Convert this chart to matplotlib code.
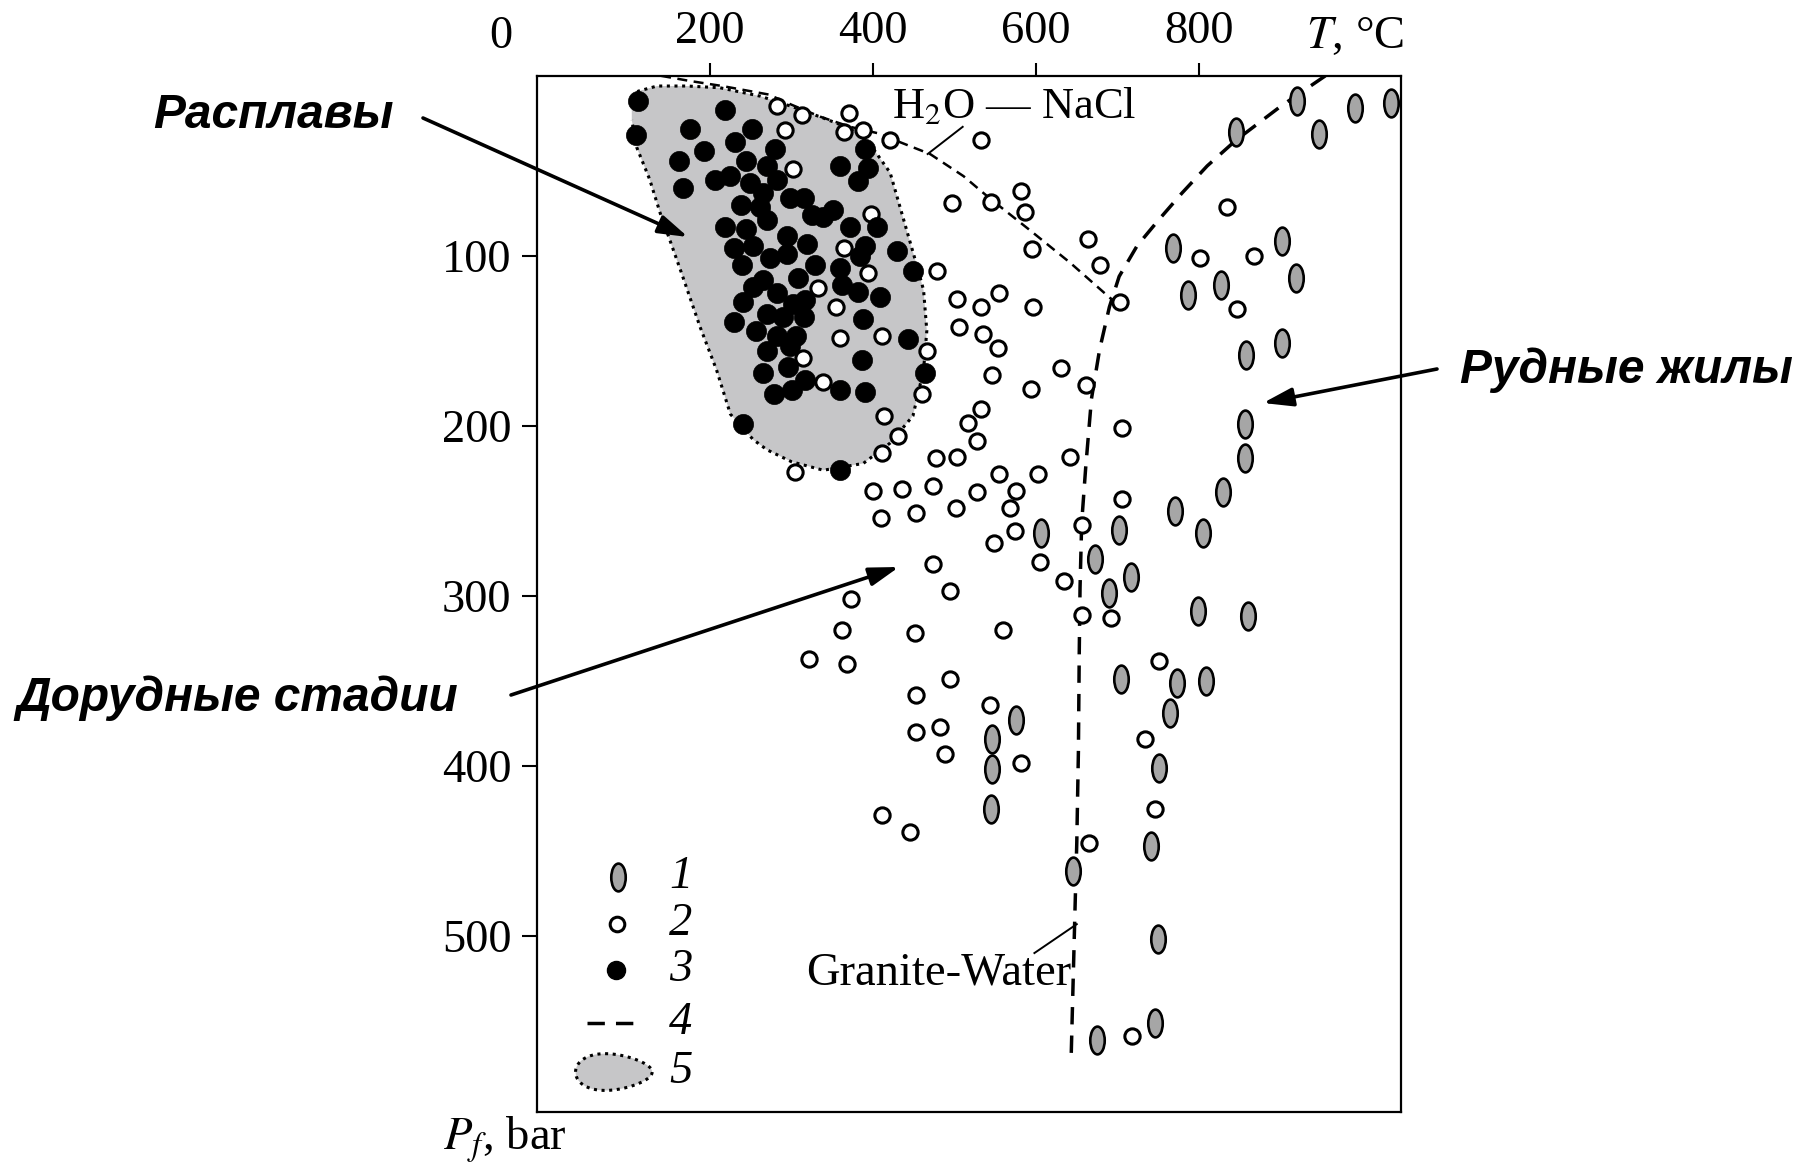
import numpy as np
import matplotlib
matplotlib.use("Agg")
import matplotlib.pyplot as plt
from matplotlib.path import Path

plt.rcParams['font.family'] = ['Liberation Serif', 'DejaVu Serif']
plt.rcParams['mathtext.fontset'] = 'stix'

# ---------------- data ----------------
# 1 - ore veins (grey ellipses)
ore_T = [920, 845, 947, 991, 1035, 768, 827, 787, 902, 919, 858, 902, 856, 856, 830,
         770, 805, 606, 702, 672, 716, 689, 799, 860, 704, 773, 809, 764, 575, 546,
         546, 545, 751, 741, 645, 750, 675, 746]
ore_P = [9, 27, 28, 13, 10, 95, 117, 123, 91, 113, 158, 151, 199, 219, 239,
         250, 263, 263, 261, 278, 289, 298, 309, 312, 349, 351, 350, 369, 373, 384,
         402, 425, 401, 447, 462, 502, 561, 551]

# 2 - pre-ore stages (open circles)
pre_T = [282, 313, 371, 364, 388, 421, 292, 302, 398, 364, 394, 333, 355, 360, 411,
         314, 339, 466, 460, 478, 497, 503, 505, 414, 431, 411, 304,
         532, 545, 582, 586, 595, 664, 678, 703, 834, 801, 867, 846, 532, 554, 596,
         535, 553, 546, 631, 594, 661, 705, 532, 516, 527,
         477, 503, 554, 603, 642, 527, 576, 473, 435, 400, 410, 453, 502, 568, 574,
         548, 705, 656, 605, 634, 656, 692, 473, 495, 373, 362, 321, 368, 451, 559,
         494, 453, 543, 453, 482, 488, 581, 751, 734, 746, 411, 445, 665, 718]
pre_P = [12, 17, 16, 27, 26, 32, 26, 49, 75, 95, 110, 119, 130, 148, 147,
         160, 174, 156, 181, 109, 69, 125, 142, 194, 206, 216, 227,
         32, 68, 62, 74, 96, 90, 105, 127, 71, 101, 100, 131, 130, 122, 130,
         146, 154, 170, 166, 178, 176, 201, 190, 198, 209,
         219, 218, 228, 228, 218, 239, 238, 235, 237, 238, 254, 251, 248, 248, 262,
         269, 243, 258, 280, 291, 311, 313, 281, 297, 302, 320, 337, 340, 322, 320,
         349, 358, 364, 380, 377, 393, 398, 338, 384, 425, 429, 439, 445, 559]

# 3 - melts (black dots)
melt_T = [112, 109, 218, 176, 252, 192, 231, 162, 167, 206, 225, 244, 280, 270, 249,
          282, 238, 261, 265, 298, 270, 218, 244, 294, 229, 253, 239, 274, 294,
          390, 359, 394, 382, 315, 325, 351, 339, 372, 405, 319, 390, 384, 429, 329,
          360, 449,
          229, 257, 241, 253, 270, 296, 265, 278, 300, 241, 282, 270, 290, 265, 282,
          302, 298,
          308, 362, 382, 409, 317, 388, 315, 306, 443, 386, 464, 317, 360, 390, 360]
melt_P = [9, 29, 14, 25, 25, 38, 33, 44, 60, 55, 53, 44, 37, 47, 57,
          55, 70, 71, 63, 66, 79, 83, 84, 88, 95, 94, 105, 101, 99,
          37, 47, 48, 56, 66, 76, 73, 77, 83, 83, 93, 94, 100, 97, 105,
          107, 109,
          139, 144, 127, 118, 156, 165, 169, 181, 179, 199, 147, 134, 136, 114, 122,
          128, 153,
          113, 117, 121, 124, 126, 137, 136, 147, 149, 161, 169, 173, 179, 180, 226]

# 4 - phase boundary curves
nacl_T = [140, 175, 215, 272, 300, 335, 372, 408, 433, 470, 511, 543, 593, 642, 694]
nacl_P = [-6, -3, 0, 5, 11, 18, 24, 28, 33, 40, 53, 66, 85, 104, 126]

granite_T = [955, 900, 845, 810, 779, 750, 724, 702, 690, 678, 668, 661, 656, 654,
             653, 652, 650, 648, 643]
granite_P = [-6, 12, 32, 47, 63, 79, 94, 112, 130, 155, 184, 224, 257, 295,
             334, 391, 445, 481, 573]

# 5 - melt field outline
field_T = [104, 112, 135, 172, 212, 262, 300, 340, 372, 396, 421, 433, 445, 454, 462,
           466, 462, 449, 421, 388, 339, 300, 270, 253, 225, 208, 188, 165, 151, 139,
           126, 110, 104]
field_P = [12, 3, 0, 0, 1, 6, 12, 19, 25, 34, 51, 71, 91, 106, 120,
           144, 167, 194, 210, 222, 226, 221, 214, 208, 193, 167, 142, 110, 91, 75,
           55, 36, 20]

x_ticks = [200, 400, 600, 800]
y_ticks = [100, 200, 300, 400, 500]
legend_labels = ['1', '2', '3', '4', '5']

# ---------------- figure ----------------
W, H = 1801, 1165
fig = plt.figure(figsize=(W / 100, H / 100), dpi=100)
ax = fig.add_axes([537 / W, 1 - 1112 / H, (1401 - 537) / W, (1112 - 76) / H])
ax.set_xlim(-12.3, 1047.8)
ax.set_ylim(603.5, -5.9)

FS = 33.5

# melt field
ax.fill(field_T, field_P, facecolor='#c6c6c8', edgecolor='none', zorder=1)
ax.plot(field_T, field_P, color='black', lw=2.2, linestyle=(0, (1, 1.5)), zorder=2)

# curves
ax.plot(nacl_T, nacl_P, color='black', lw=1.8, linestyle=(0, (4, 2.6)), zorder=3)
ax.plot(granite_T, granite_P, color='black', lw=2.5, linestyle=(0, (5, 3.2)), zorder=3)

# markers
circ = Path.unit_circle()
ell_path = Path(circ.vertices * np.array([0.52, 1.0]), circ.codes)

ax.plot(ore_T, ore_P, linestyle='none', marker=ell_path, markersize=20,
        markerfacecolor='#a6a6a6', markeredgecolor='black', markeredgewidth=1.9, zorder=5)
ax.plot(pre_T, pre_P, linestyle='none', marker='o', markersize=11,
        markerfacecolor='white', markeredgecolor='black', markeredgewidth=2.2, zorder=5)
ax.plot(melt_T, melt_P, linestyle='none', marker='o', markersize=14.5,
        markerfacecolor='black', markeredgecolor='black', markeredgewidth=0.5, zorder=6)

# curve labels
ax.text(573, 12, r'H$_2$O — NaCl', fontsize=32, ha='center', va='center', zorder=7)
ax.plot([467, 510], [40, 24], color='black', lw=1.4, zorder=4)
ax.text(481, 522, 'Granite-Water', fontsize=FS, ha='center', va='center', zorder=7)
ax.plot([598, 650], [510, 493], color='black', lw=1.4, zorder=4)

# legend (inside axes)
leg_T = 87
ax.plot([leg_T], [465], linestyle='none', marker=ell_path, markersize=20,
        markerfacecolor='#a6a6a6', markeredgecolor='black', markeredgewidth=1.9)
ax.plot([leg_T - 1], [493], linestyle='none', marker='o', markersize=10.5,
        markerfacecolor='white', markeredgecolor='black', markeredgewidth=2.2)
ax.plot([leg_T - 2], [520], linestyle='none', marker='o', markersize=13,
        markerfacecolor='black', markeredgecolor='black')
ax.plot([49, 111], [551, 551], color='black', lw=2.5, linestyle=(0, (5, 3.2)))
t = np.linspace(0, 2 * np.pi, 80)
bx = 82 + 47 * np.cos(t)
by = 580 + 10.5 * np.sin(t) * (1 - 0.25 * np.cos(t))
ax.fill(bx, by, facecolor='#c6c6c8', edgecolor='none')
ax.plot(bx, by, color='black', lw=2.2, linestyle=(0, (1, 1.5)))
for lab, yy in zip(legend_labels, [465, 493, 520, 551, 580]):
    ax.text(150, yy, lab, fontsize=FS, fontstyle='italic', ha='left', va='center')

# axes styling
ax.xaxis.tick_top()
ax.xaxis.set_label_position('top')
ax.set_xticks(x_ticks)
ax.set_xticklabels([str(v) for v in x_ticks])
ax.set_yticks(y_ticks)
ax.set_yticklabels([str(v) for v in y_ticks])
ax.tick_params(axis='x', direction='out', length=9.5, width=1.5, pad=7, labelsize=FS)
ax.tick_params(axis='y', direction='out', length=10.5, width=1.5, pad=8, labelsize=FS)
for sp in ax.spines.values():
    sp.set_linewidth(1.6)

# axis annotations
fig.text(501 / W, 1 - 37 / H, '0', fontsize=FS, ha='center', va='center')
fig.text(1355 / W, 1 - 37 / H, r'$T$, °C', fontsize=FS, ha='center', va='center')
fig.text(443 / W, 1 - 1140 / H, r'$P_f$, bar', fontsize=FS, ha='left', va='center')

# Russian annotations with arrows
rfont = dict(family='Liberation Sans', fontweight='bold', fontstyle='italic', fontsize=34.5)
fig.text(273 / W, 1 - 115 / H, 'Расплавы', ha='center', va='center', **rfont)
fig.text(1626 / W, 1 - 370 / H, 'Рудные жилы', ha='center', va='center', **rfont)
fig.text(237 / W, 1 - 698 / H, 'Дорудные стадии', ha='center', va='center', **rfont)

arrows = [((423, 118), (688, 237)),
          ((1437, 369), (1263, 403)),
          ((511, 695), (899, 567))]
for (x0, y0), (x1, y1) in arrows:
    ax.annotate('', xy=(x1 / W, 1 - y1 / H), xycoords='figure fraction',
                xytext=(x0 / W, 1 - y0 / H), textcoords='figure fraction',
                arrowprops=dict(arrowstyle='-|>,head_length=0.9,head_width=0.28',
                                lw=2.6, color='black', mutation_scale=20,
                                shrinkA=0, shrinkB=0),
                annotation_clip=False)

fig.savefig('out.png', dpi=100, facecolor='white')
